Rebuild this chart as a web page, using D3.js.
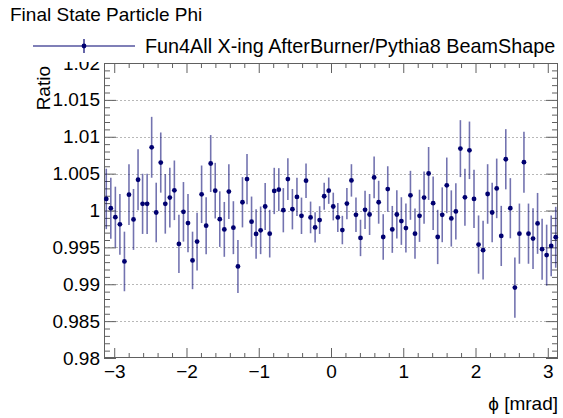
<!DOCTYPE html>
<html>
<head>
<meta charset="utf-8">
<script src="https://cdn.jsdelivr.net/npm/d3@7"></script>
<style>
  html, body { margin: 0; padding: 0; background: #fff; }
  svg { display: block; }
  text { font-family: "Liberation Sans", Arial, Helvetica, sans-serif; fill: #000; }
</style>
</head>
<body>
<svg id="chart" width="563" height="418"></svg>
<script>
// Histogram binning in phi
const nBins = 100;
const phiMin = -Math.PI;
const phiMax = Math.PI;

// Ratio per bin (AfterBurner / Pythia8 BeamShape)
const ratio = [
  1.00157, 1.00031, 0.99910, 0.99812, 0.99309, 1.00215, 0.99879, 1.00417, 1.00090, 1.00090,
  1.00857, 0.99973, 1.00650, 1.00090, 1.00175, 1.00274, 0.99547, 0.99982, 0.99830, 0.99323,
  0.99578, 1.00220, 0.99794, 1.00637, 1.00269, 0.99883, 0.99744, 1.00256, 0.99767, 0.99242,
  1.00112, 1.00426, 0.99848, 0.99682, 0.99731, 1.00054, 0.99686, 1.00265, 1.00283, 1.00004,
  1.00426, 1.00018, 1.00184, 0.99928, 1.00404, 0.99906, 0.99771, 0.99870, 1.00193, 1.00269,
  1.00054, 0.99906, 0.99735, 1.00094, 1.00408, 0.99942, 0.99628, 1.00009, 0.99946, 1.00448,
  1.00112, 0.99641, 1.00291, 0.99744, 0.99946, 0.99857, 0.99762, 1.00206, 0.99686, 0.99928,
  1.00175, 1.00502, 1.00099, 0.99641, 0.99942, 1.00341, 0.99892, 0.99987, 1.00839, 1.00179,
  1.00816, 1.00157, 0.99538, 0.99462, 1.00224, 0.99973, 1.00300, 0.99655, 1.00695, 1.00031,
  0.98955, 0.99686, 1.00655, 0.99686, 0.99619, 0.99825, 0.99475, 0.99395, 0.99520, 0.99637
];

// Statistical uncertainty per bin
const ratioErr = [
  0.00410, 0.00413, 0.00413, 0.00413, 0.00404, 0.00413, 0.00413, 0.00413, 0.00408, 0.00408,
  0.00413, 0.00404, 0.00408, 0.00404, 0.00404, 0.00404, 0.00395, 0.00404, 0.00395, 0.00390,
  0.00390, 0.00390, 0.00386, 0.00386, 0.00377, 0.00377, 0.00372, 0.00372, 0.00359, 0.00359,
  0.00341, 0.00341, 0.00341, 0.00336, 0.00323, 0.00318, 0.00323, 0.00314, 0.00291, 0.00300,
  0.00283, 0.00274, 0.00260, 0.00247, 0.00233, 0.00215, 0.00206, 0.00188, 0.00184, 0.00179,
  0.00188, 0.00197, 0.00193, 0.00211, 0.00220, 0.00233, 0.00247, 0.00260, 0.00278, 0.00283,
  0.00291, 0.00309, 0.00309, 0.00318, 0.00327, 0.00323, 0.00332, 0.00332, 0.00341, 0.00354,
  0.00354, 0.00359, 0.00363, 0.00368, 0.00372, 0.00377, 0.00381, 0.00381, 0.00386, 0.00386,
  0.00390, 0.00395, 0.00395, 0.00399, 0.00404, 0.00404, 0.00404, 0.00408, 0.00408, 0.00408,
  0.00408, 0.00408, 0.00413, 0.00408, 0.00413, 0.00413, 0.00413, 0.00413, 0.00413, 0.00413
];

const xMajorTicks = [-3, -2, -1, 0, 1, 2, 3];
const yMajorTicks = [0.98, 0.985, 0.99, 0.995, 1, 1.005, 1.01, 1.015, 1.02];
const yTickLabels = ["0.98", "0.985", "0.99", "0.995", "1", "1.005", "1.01", "1.015", "1.02"];

const titleText = "Final State Particle Phi";
const legendText = "Fun4All X-ing AfterBurner/Pythia8 BeamShape";
const xTitle = "\u03D5 [mrad]";
const yTitle = "Ratio";

const markerColor = "#000070";
const axisColor = "#606060";

const svg = d3.select("#chart");
const frame = { left: 104, right: 558, top: 63, bottom: 358 };

const x = d3.scaleLinear().domain([phiMin, phiMax]).range([frame.left, frame.right]);
const y = d3.scaleLinear().domain([0.98, 1.02]).range([frame.bottom, frame.top]);

const binWidth = (phiMax - phiMin) / nBins;
const points = ratio.map((v, i) => ({
  phi: phiMin + (i + 0.5) * binWidth,
  v: v,
  e: ratioErr[i]
}));

// horizontal dotted grid
svg.append("g")
  .selectAll("line")
  .data(yMajorTicks.filter(t => t > 0.98 && t < 1.02))
  .join("line")
  .attr("x1", frame.left).attr("x2", frame.right)
  .attr("y1", d => Math.round(y(d)) + 0.5).attr("y2", d => Math.round(y(d)) + 0.5)
  .attr("stroke", "#b8b8b8")
  .attr("stroke-width", 1)
  .attr("stroke-dasharray", "2,2");

// minor tick values
const xMinorAll = d3.range(-15, 16).map(k => k / 5).filter(v => !xMajorTicks.includes(Math.round(v * 100) / 100));
const yMinor = d3.range(980, 1021).map(k => k / 1000).filter(v => Math.round(v * 1000) % 5 !== 0);

function styleAxis(g) {
  g.select(".domain").remove();
  g.selectAll(".tick line").attr("stroke", axisColor).attr("stroke-width", 1);
}

// bottom axis: major with labels, minor without
svg.append("g")
  .attr("transform", `translate(0,${frame.bottom})`)
  .call(d3.axisBottom(x).tickValues(xMajorTicks).tickSize(-10).tickPadding(7).tickFormat(d3.format("d")))
  .call(styleAxis)
  .call(g => g.selectAll("text").attr("font-size", 19).attr("fill", "#000")
    .attr("font-family", "Liberation Sans, Arial, sans-serif"));
svg.append("g")
  .attr("transform", `translate(0,${frame.bottom})`)
  .call(d3.axisBottom(x).tickValues(xMinorAll).tickSize(-5).tickFormat(""))
  .call(styleAxis);

// top axis mirror ticks
svg.append("g")
  .attr("transform", `translate(0,${frame.top})`)
  .call(d3.axisTop(x).tickValues(xMajorTicks).tickSize(-10).tickFormat(""))
  .call(styleAxis);
svg.append("g")
  .attr("transform", `translate(0,${frame.top})`)
  .call(d3.axisTop(x).tickValues(xMinorAll).tickSize(-5).tickFormat(""))
  .call(styleAxis);

// left axis
svg.append("g")
  .attr("transform", `translate(${frame.left},0)`)
  .call(d3.axisLeft(y).tickValues(yMajorTicks).tickSize(-12).tickPadding(4)
    .tickFormat((d, i) => yTickLabels[i]))
  .call(styleAxis)
  .call(g => g.selectAll("text").attr("font-size", 19).attr("fill", "#000")
    .attr("font-family", "Liberation Sans, Arial, sans-serif"));
svg.append("g")
  .attr("transform", `translate(${frame.left},0)`)
  .call(d3.axisLeft(y).tickValues(yMinor).tickSize(-6).tickFormat(""))
  .call(styleAxis);

// right axis mirror ticks
svg.append("g")
  .attr("transform", `translate(${frame.right},0)`)
  .call(d3.axisRight(y).tickValues(yMajorTicks).tickSize(-12).tickFormat(""))
  .call(styleAxis);
svg.append("g")
  .attr("transform", `translate(${frame.right},0)`)
  .call(d3.axisRight(y).tickValues(yMinor).tickSize(-6).tickFormat(""))
  .call(styleAxis);

// frame
svg.append("rect")
  .attr("x", frame.left + 0.5).attr("y", frame.top + 0.5)
  .attr("width", frame.right - frame.left - 1).attr("height", frame.bottom - frame.top - 1)
  .attr("fill", "none").attr("stroke", axisColor).attr("stroke-width", 1);

// error bars
svg.append("g")
  .selectAll("line")
  .data(points)
  .join("line")
  .attr("x1", d => x(d.phi)).attr("x2", d => x(d.phi))
  .attr("y1", d => y(d.v - d.e)).attr("y2", d => y(d.v + d.e))
  .attr("stroke", markerColor)
  .attr("stroke-opacity", 0.55)
  .attr("stroke-width", 1.6);

// markers
svg.append("g")
  .selectAll("circle")
  .data(points)
  .join("circle")
  .attr("cx", d => x(d.phi)).attr("cy", d => y(d.v))
  .attr("r", 2.4)
  .attr("fill", markerColor);

// y title
svg.append("text")
  .attr("transform", `translate(50,${frame.top + 3}) rotate(-90)`)
  .attr("text-anchor", "end")
  .attr("font-size", 19)
  .text(yTitle);

// x title
svg.append("text")
  .attr("x", frame.right).attr("y", 410)
  .attr("text-anchor", "end")
  .attr("font-size", 19)
  .text(xTitle);

// legend box (opaque, overlaps top of axis labels)
svg.append("rect")
  .attr("x", 60).attr("y", 26).attr("width", 503).attr("height", 36)
  .attr("fill", "#fff");

const legY = 46;
svg.append("line")
  .attr("x1", 33).attr("x2", 135).attr("y1", legY).attr("y2", legY)
  .attr("stroke", markerColor).attr("stroke-width", 1.2);
svg.append("line")
  .attr("x1", 84).attr("x2", 84).attr("y1", legY - 7).attr("y2", legY + 7)
  .attr("stroke", markerColor).attr("stroke-width", 1.2);
svg.append("circle")
  .attr("cx", 84).attr("cy", legY).attr("r", 2.4)
  .attr("fill", markerColor);
svg.append("text")
  .attr("x", 145).attr("y", legY + 7)
  .attr("font-size", 19.8)
  .text(legendText);

// title
svg.append("text")
  .attr("x", 10).attr("y", 21)
  .attr("font-size", 19)
  .text(titleText);
</script>
</body>
</html>
